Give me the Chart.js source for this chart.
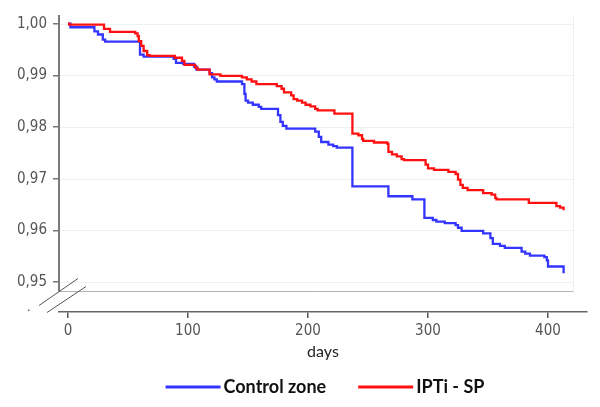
<!DOCTYPE html>
<html>
<head>
<meta charset="utf-8">
<script src="https://cdn.jsdelivr.net/npm/chart.js@4.4.1/dist/chart.umd.min.js"></script>
<style>
  html, body { margin: 0; padding: 0; background: #ffffff; }
  #wrap { width: 600px; height: 407px; position: relative; }
</style>
</head>
<body>
<div id="wrap"><canvas id="c" width="600" height="407"></canvas></div>
<script>
// ---------------- data ----------------
const seriesNames = ['Control zone', 'IPTi - SP'];

const controlDays = [0, 2, 22, 25, 29, 31, 60, 63, 88, 90, 96, 105, 107, 118, 120, 122, 124, 145, 147, 148, 150, 154, 159, 161, 175, 177, 179, 182, 206, 209, 211, 217, 221, 224, 237, 267, 287, 297, 304, 307, 314, 323, 325, 328, 346, 352, 354, 360, 364, 378, 381, 385, 397, 399, 400, 413];
const controlSurv = [1.0000, 0.9993, 0.9985, 0.9979, 0.9969, 0.9965, 0.9940, 0.9936, 0.9932, 0.9924, 0.9922, 0.9917, 0.9911, 0.9904, 0.9896, 0.9892, 0.9888, 0.9883, 0.9864, 0.9851, 0.9847, 0.9843, 0.9839, 0.9835, 0.9823, 0.9810, 0.9802, 0.9797, 0.9791, 0.9781, 0.9771, 0.9766, 0.9763, 0.9760, 0.9685, 0.9666, 0.9660, 0.9624, 0.9620, 0.9617, 0.9614, 0.9610, 0.9605, 0.9599, 0.9594, 0.9585, 0.9574, 0.9570, 0.9566, 0.9559, 0.9555, 0.9551, 0.9548, 0.9542, 0.9530, 0.9517];

const iptiDays = [0, 1, 30, 35, 56, 58, 59, 61, 63, 66, 68, 89, 95, 97, 106, 108, 118, 127, 145, 149, 153, 157, 174, 178, 180, 186, 188, 191, 195, 198, 202, 206, 208, 222, 237, 242, 245, 246, 255, 266, 267, 270, 274, 278, 280, 298, 300, 305, 317, 323, 325, 327, 329, 333, 346, 353, 356, 357, 384, 407, 410, 413];
const iptiSurv = [1.0000, 0.9998, 0.9990, 0.9984, 0.9981, 0.9976, 0.9966, 0.9957, 0.9947, 0.9939, 0.99375, 0.9934, 0.9928, 0.9920, 0.9915, 0.9911, 0.9902, 0.9899, 0.9896, 0.9892, 0.9888, 0.9883, 0.9879, 0.9874, 0.9867, 0.9861, 0.9854, 0.9851, 0.9847, 0.9843, 0.9840, 0.9835, 0.9832, 0.9826, 0.9787, 0.9784, 0.9777, 0.9773, 0.9770, 0.9768, 0.9752, 0.9747, 0.9743, 0.9738, 0.9736, 0.9727, 0.9720, 0.9717, 0.9713, 0.9709, 0.9698, 0.9688, 0.9682, 0.9678, 0.9672, 0.9669, 0.9663, 0.9660, 0.9653, 0.9647, 0.9644, 0.9639];

const xTickValues = [0, 100, 200, 300, 400];
const yTickValues = [0.95, 0.96, 0.97, 0.98, 0.99, 1.00];
const yTickLabels = ['0,95', '0,96', '0,97', '0,98', '0,99', '1,00'];
const xTitle = 'days';

// ---------------- styling ----------------
const seriesColors = ['#3434ff', '#ff1010'];
const tickFont = "'DejaVu Sans Condensed', 'DejaVu Sans', sans-serif";
const textFont = "Lato, 'Open Sans', sans-serif";
const X_MIN = -7.5, X_MAX = 432.5, GRID_END = 421;
const Y_MIN = 0.9442, Y_MAX = 1.00167, Y_BREAK = 0.9482;

function pts(days, vals) { return days.map((d, i) => ({ x: d, y: vals[i] })); }

const decor = {
  id: 'decor',
  beforeDatasetsDraw(chart) {
    const { ctx, chartArea: a, scales: { x, y } } = chart;
    const gx = x.getPixelForValue(GRID_END);
    const by = Math.round(y.getPixelForValue(Y_BREAK)) + 0.5;
    ctx.save();
    ctx.strokeStyle = '#ebf2f2';
    ctx.lineWidth = 1;
    yTickValues.forEach(v => {
      const py = Math.round(y.getPixelForValue(v)) + 0.5;
      ctx.beginPath(); ctx.moveTo(a.left, py); ctx.lineTo(gx, py); ctx.stroke();
    });
    ctx.strokeStyle = '#f0f0f0';
    ctx.beginPath(); ctx.moveTo(Math.round(gx) + 0.5, a.top); ctx.lineTo(Math.round(gx) + 0.5, by); ctx.stroke();
    ctx.strokeStyle = '#b4b4b4';
    ctx.beginPath(); ctx.moveTo(a.left, by); ctx.lineTo(gx, by); ctx.stroke();
    ctx.strokeStyle = '#7a7a7a';
    ctx.lineWidth = 2;
    ctx.beginPath(); ctx.moveTo(a.left, a.top); ctx.lineTo(a.left, by); ctx.stroke();
    ctx.strokeStyle = '#555';
    ctx.lineWidth = 1;
    ctx.beginPath();
    ctx.moveTo(a.left - 20, by + 14); ctx.lineTo(a.left + 19, by - 13);
    ctx.moveTo(a.left - 12, by + 21); ctx.lineTo(a.left + 27, by - 5);
    ctx.stroke();
    ctx.fillStyle = '#666';
    ctx.fillRect(a.left - 31, by + 18, 1.5, 1.5);
    ctx.restore();
  },
  afterDraw(chart) {
    const { ctx, chartArea: a, scales: { x } } = chart;
    const ly = x.bottom + 26;
    ctx.save();
    ctx.font = "bold 18px " + textFont;
    ctx.textBaseline = 'middle';
    ctx.textAlign = 'left';
    const lineW = 55, gap = 3, itemGap = 32;
    const widths = chart.data.datasets.map(ds => ctx.measureText(ds.label).width);
    const total = widths.reduce((s, w) => s + lineW + gap + w, 0) + itemGap * (widths.length - 1);
    let cx = (a.left + a.right) / 2 - total / 2 + 2;
    chart.data.datasets.forEach((ds, i) => {
      ctx.strokeStyle = ds.borderColor;
      ctx.lineWidth = 3;
      ctx.beginPath(); ctx.moveTo(cx, ly); ctx.lineTo(cx + lineW, ly); ctx.stroke();
      cx += lineW + gap;
      ctx.fillStyle = '#111';
      ctx.fillText(ds.label, cx, ly);
      cx += widths[i] + itemGap;
    });
    ctx.restore();
  }
};

new Chart(document.getElementById('c'), {
  type: 'line',
  data: {
    datasets: [
      { label: seriesNames[0], data: pts(controlDays, controlSurv), borderColor: seriesColors[0], backgroundColor: seriesColors[0], order: 1 },
      { label: seriesNames[1], data: pts(iptiDays, iptiSurv), borderColor: seriesColors[1], backgroundColor: seriesColors[1], order: 0 }
    ]
  },
  options: {
    responsive: false,
    animation: false,
    events: [],
    layout: { padding: { top: 12, right: 13, bottom: 46, left: 0 } },
    elements: {
      line: { stepped: 'before', borderWidth: 2.3, tension: 0, fill: false },
      point: { radius: 0 }
    },
    plugins: { legend: { display: false }, tooltip: { enabled: false } },
    scales: {
      x: {
        type: 'linear',
        min: X_MIN, max: X_MAX,
        afterBuildTicks: s => { s.ticks = xTickValues.map(v => ({ value: v })); },
        afterFit: s => { s.height = 49; },
        ticks: { autoSkip: false, maxRotation: 0, padding: 4, color: '#555', font: { family: tickFont, size: 15 } },
        grid: { drawOnChartArea: false, tickLength: 6, tickColor: '#555', lineWidth: 1.5 },
        border: { color: '#666', width: 1.5 },
        title: { display: true, text: xTitle, color: '#222', font: { family: textFont, size: 16 }, padding: { top: 0, bottom: 0 } }
      },
      y: {
        type: 'linear',
        min: Y_MIN, max: Y_MAX,
        afterBuildTicks: s => { s.ticks = yTickValues.map(v => ({ value: v })); },
        afterFit: s => { s.width = 59; },
        ticks: {
          padding: 6, color: '#555', font: { family: tickFont, size: 15 },
          callback: v => yTickLabels[yTickValues.findIndex(t => Math.abs(t - v) < 1e-9)]
        },
        grid: { drawOnChartArea: false, tickLength: 6, tickColor: '#777', lineWidth: 1.5 },
        border: { display: false }
      }
    }
  },
  plugins: [decor]
});
</script>
</body>
</html>
